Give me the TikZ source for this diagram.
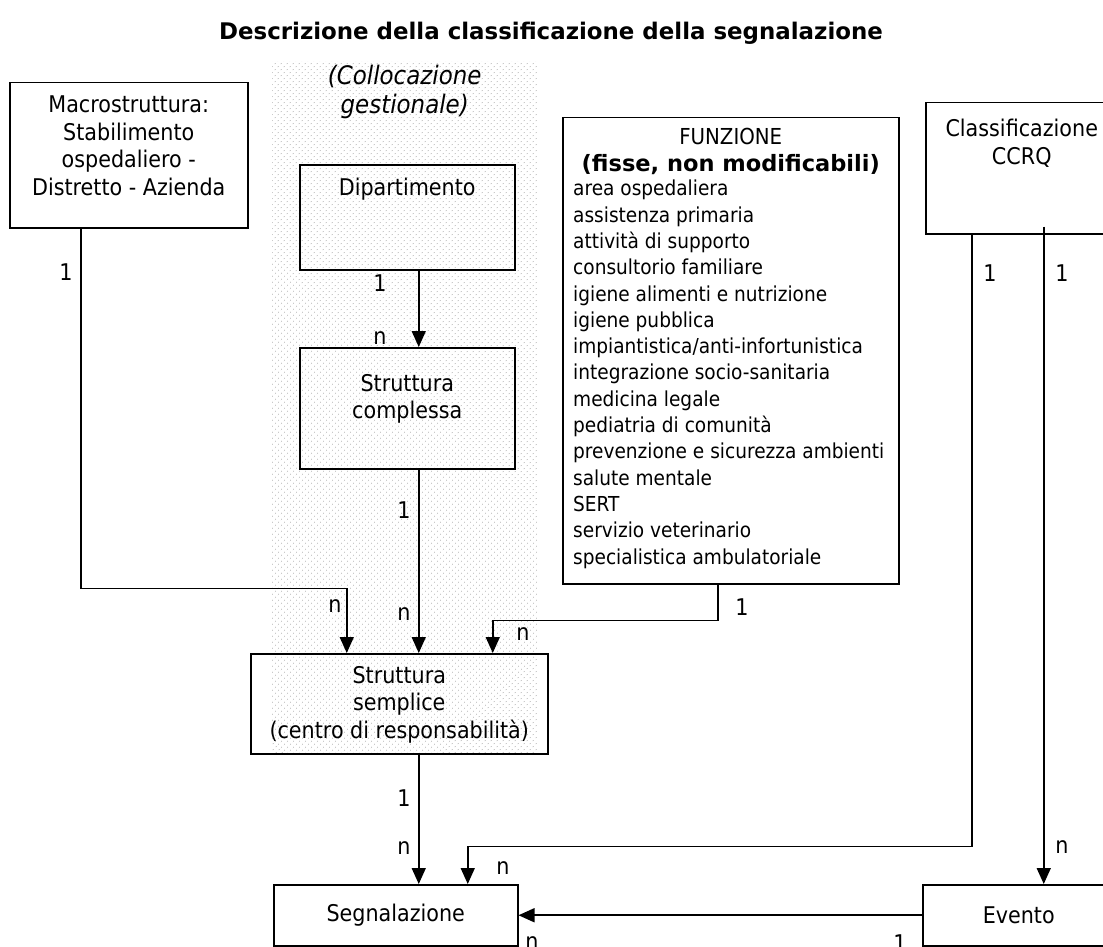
\documentclass[tikz,border=0pt]{standalone}
\usepackage{fontspec}
\setmainfont{DejaVu Sans}[FakeStretch=0.9]
\newfontfamily\headfont{DejaVu Sans}
\usepackage{tikz}
\usetikzlibrary{arrows.meta, positioning, patterns.meta}

\begin{document}
\begin{tikzpicture}[
  x=1pt, y=-1pt,
  box/.style={rectangle, draw=black, line width=1.5pt, inner sep=0pt, anchor=north west},
  txt/.style={align=center, inner sep=0pt, font=\fontsize{23}{27.5}\selectfont},
  lbl/.style={inner sep=0pt, font=\fontsize{23}{26}\selectfont},
  arrow/.style={-{Triangle[length=16pt, width=14pt]}, line width=1.6pt},
  link/.style={line width=1.6pt}
]
\useasboundingbox (0,0) rectangle (1103,947);

% zona gestionale (puntinata)
\node[anchor=north west, inner sep=0pt, minimum width=265pt, minimum height=692pt,
  pattern={Dots[radius=0.6pt, distance=4pt, angle=45]}, pattern color=black!32] (gest) at (272,61) {};

\node[inner sep=0pt, font=\headfont\bfseries\fontsize{22.9}{27}\selectfont] (title) at (551,33)
  {Descrizione della classificazione della segnalazione};
\node[txt, font=\itshape\fontsize{25.5}{29}\selectfont, below=4pt of gest.north] (colloc)
  {(Collocazione\\gestionale)};

% entita
\node[box, minimum width=238pt, minimum height=145pt] (macro) at (9,82) {};
\node[txt, below=14pt of macro.north] (macrot)
  {Macrostruttura:\\Stabilimento\\ospedaliero -\\Distretto - Azienda};

\node[box, minimum width=215pt, minimum height=105pt] (dip) at (299,164) {};
\node[txt, below=14pt of dip.north] (dipt) {Dipartimento};

\node[box, minimum width=215pt, minimum height=121pt] (sc) at (299,347) {};
\node[txt, below=27pt of sc.north] (sct) {Struttura\\complessa};

\node[box, minimum width=336pt, minimum height=466pt] (funz) at (562,117) {};
\node[txt, font=\fontsize{22}{27}\selectfont, below=11pt of funz.north] (funzt)
  {FUNZIONE\\{\headfont\bfseries\fontsize{22.5}{27}\selectfont (fisse, non modificabili)}};
\node[txt, align=left, font=\fontsize{20.6}{26.3}\selectfont,
  below right=63pt and 11pt of funz.north west] (funzl) {%
  area ospedaliera\\
  assistenza primaria\\
  attività di supporto\\
  consultorio familiare\\
  igiene alimenti e nutrizione\\
  igiene pubblica\\
  impiantistica/anti-infortunistica\\
  integrazione socio-sanitaria\\
  medicina legale\\
  pediatria di comunità\\
  prevenzione e sicurezza ambienti\\
  salute mentale\\
  SERT\\
  servizio veterinario\\
  specialistica ambulatoriale};

\node[box, minimum width=192pt, minimum height=131pt] (class) at (925,102) {};
\node[txt, below=17pt of class.north] (classt) {Classificazione\\CCRQ};

\node[box, minimum width=297pt, minimum height=100pt] (ss) at (250,653) {};
\node[txt, below=13pt of ss.north] (sst)
  {Struttura\\semplice\\(centro di responsabilità)};

\node[box, txt, minimum width=244pt, minimum height=61pt] (segn) at (273,884) {Segnalazione};
\node[box, txt, minimum width=192pt, minimum height=61pt] (evento) at (922,884) {Evento};

% relazioni
\draw[arrow] ([xshift=11.5pt]dip.south) -- ([xshift=11.5pt]sc.north);
\draw[arrow] ([xshift=11.5pt]sc.south) -- ([xshift=19.5pt]ss.north);
\draw[arrow] ([xshift=-48pt]macro.south) -- ++(0,360) -| ([xshift=-52.5pt]ss.north);
\draw[arrow] ([xshift=-13pt]funz.south) -- ++(0,36) -| ([xshift=93.5pt]ss.north);
\draw[arrow] ([xshift=19.5pt]ss.south) -- ([xshift=23pt]segn.north);
\draw[arrow] ([xshift=-50pt]class.south) -- ++(0,612) -| ([xshift=72pt]segn.north);
\draw[arrow] ([xshift=22pt, yshift=8pt]class.south) -- ([xshift=25pt]evento.north);
\draw[arrow] (evento.west) -- (segn.east);

% cardinalita
\node[lbl] (macro1) at (66,272) {1};
\node[lbl] (macron) at (335,606) {n};
\node[lbl] (dip1) at (380,283) {1};
\node[lbl] (dipn) at (380,338) {n};
\node[lbl] (sc1) at (404,510) {1};
\node[lbl] (scn) at (404,614) {n};
\node[lbl] (funz1) at (742,607) {1};
\node[lbl] (funzn) at (523,634) {n};
\node[lbl] (ss1) at (404,798) {1};
\node[lbl] (ssn) at (404,848) {n};
\node[lbl] (class1a) at (990,273) {1};
\node[lbl] (class1b) at (1062,273) {1};
\node[lbl] (classna) at (503,868) {n};
\node[lbl] (classnb) at (1062,847) {n};
\node[lbl] (segnn) at (532,943) {n};
\node[lbl] (evento1) at (900,943) {1};

\end{tikzpicture}
\end{document}
